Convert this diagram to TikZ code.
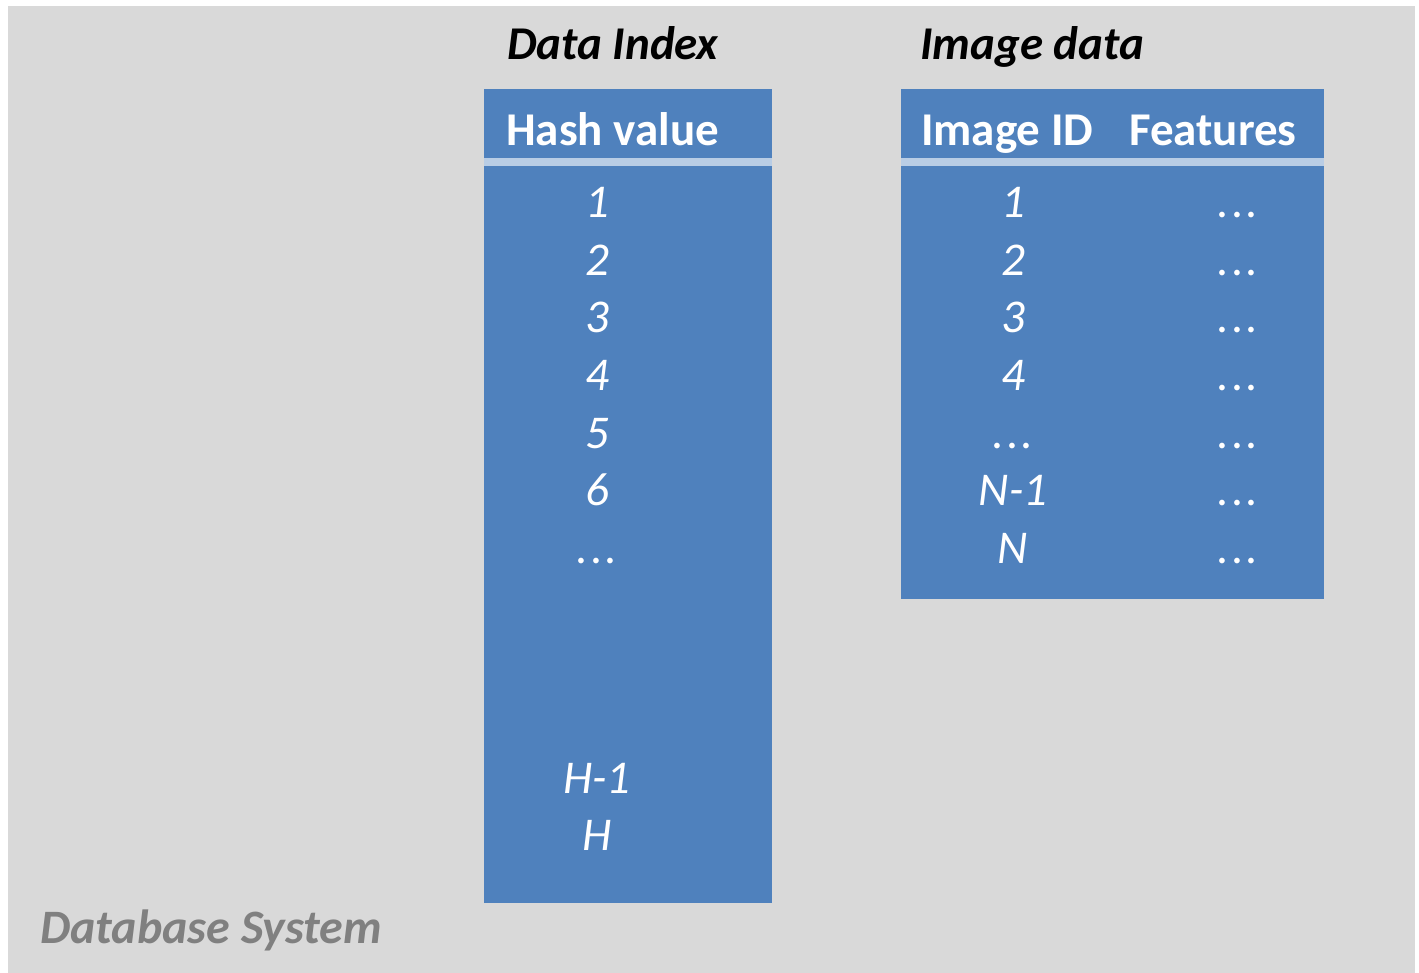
\documentclass[tikz,border=0pt]{standalone}
\usepackage{fontspec}
\setmainfont{Carlito}
\definecolor{panelgray}{HTML}{D9D9D9}
\definecolor{tableblue}{HTML}{4F81BD}
\definecolor{ruleblue}{HTML}{B9CDE5}
\definecolor{labelgray}{HTML}{808080}
\newcommand\celldots{.\kern2.5pt.\kern2.5pt.}
\begin{document}
\begin{tikzpicture}[x=1pt,y=-1pt,
  cell/.style={anchor=base,text=white,inner sep=0pt,font=\fontsize{47}{56}\itshape\selectfont},
  head/.style={anchor=base west,text=white,inner sep=0pt,font=\fontsize{47}{56}\bfseries\selectfont},
  title/.style={anchor=base west,text=black,inner sep=0pt,font=\fontsize{47}{56}\bfseries\itshape\selectfont}]
\useasboundingbox (0,0) rectangle (1419,973);
% panel
\fill[panelgray] (8,6) rectangle (1415,973);
% tables with their header rules
\fill[tableblue] (484,89) rectangle (772,903);
\fill[ruleblue] (484,158) rectangle (772,166);
\fill[tableblue] (901,89) rectangle (1324,599);
\fill[ruleblue] (901,158) rectangle (1324,166);
% titles
\node[title] (tIdx) at (507,60) {Data Index};
\node[title] (tImg) at (920,60) {Image data};
\node[anchor=base west,text=labelgray,inner sep=0pt,font=\fontsize{48}{56}\bfseries\itshape\selectfont] (sys) at (40,943) {Database System};
% headers
\node[head] (hHash) at (506,146) {Hash value};
\node[head] (hId) at (921,146) {Image ID};
\node[head] (hFeat) at (1129,146) {Features};
% hash column
\foreach \t [count=\i from 0] in {1,2,3,4,5,6,\celldots}
  \node[cell] (h\i) at (597,218+57.5*\i) {\t};
\node[cell] (hH1) at (597,793) {H-1};
\node[cell] (hH) at (597,850.5) {H};
% image id column
\foreach \t [count=\i from 0] in {1,2,3,4,\celldots,N-1,N}
  \node[cell] (id\i) at (1013,218+57.5*\i) {\t};
% feature column
\foreach \i in {0,1,2,3,4,5,6}
  \node[cell] (f\i) at (1238,218+57.5*\i) {\celldots};
\end{tikzpicture}
\end{document}
